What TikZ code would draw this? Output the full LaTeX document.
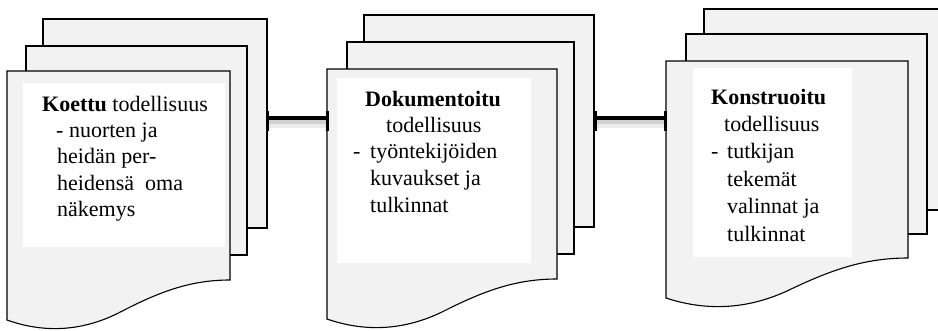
\documentclass[tikz,border=0pt]{standalone}
\usepackage{fontspec}
\setmainfont{Liberation Serif}
\definecolor{pagegray}{HTML}{F2F2F2}
\tikzset{
  page/.style={draw=black, line width=1.1pt, fill=pagegray, line join=miter},
  whitebox/.style={fill=white, draw=none},
  txt/.style={anchor=base west, inner sep=0pt, font=\fontsize{22}{26}\selectfont},
  link/.style={line width=4pt, black},
  linkshadowA/.style={line width=8pt, black!8},
  linkshadowB/.style={line width=4pt, black!18},
  tick/.style={line width=3pt, black},
}
\begin{document}
\begin{tikzpicture}[x=1pt,y=-1pt]
\clip (0,0) rectangle (938,330);
\fill[white] (0,0) rectangle (938,330);

% ---------- stack 1 ----------
\draw[page] (43,19) rectangle (267,228);
\draw[page] (26,46) rectangle (247,255);
\draw[page] (7,71) -- (230,71) -- (230,280)
  .. controls (190,280) and (158.6,292) .. (118.5,313)
  .. controls (78.4,333) and (40.5,332) .. (7,320) -- cycle;
\fill[whitebox] (23,83) rectangle (225,247);
\node[txt] (k1) at (42,111) {\textbf{Koettu} todellisuus};
\node[txt] (k2) at (56,137.4) {- nuorten ja};
\node[txt] (k3) at (57,163.8) {heidän per-};
\node[txt] (k4) at (57,190.2) {heidensä\ \ oma};
\node[txt] (k5) at (57,216.6) {näkemys};

% ---------- stack 2 ----------
\draw[page] (364,15) rectangle (594,227);
\draw[page] (347,42) rectangle (574,254);
\draw[page] (327,69) -- (557,69) -- (557,279)
  .. controls (515.6,279) and (483.4,291) .. (442,312)
  .. controls (400.6,332) and (361.5,331) .. (327,319) -- cycle;
\fill[whitebox] (337,78) rectangle (531,263);
\node[txt] (d1) at (365,106) {\textbf{Dokumentoitu}};
\node[txt] (d2) at (386,132) {todellisuus};
\node[txt] (d3) at (353,158.5) {-};
\node[txt] (d4) at (370,158.5) {työntekijöiden};
\node[txt] (d5) at (370,185) {kuvaukset ja};
\node[txt] (d6) at (370,212) {tulkinnat};

% ---------- stack 3 ----------
\draw[page] (704,9) rectangle (960,210);
\draw[page] (686,34) rectangle (927,234);
\draw[page] (666,61) -- (908,61) -- (908,258)
  .. controls (864.4,258) and (830.6,270) .. (787,291)
  .. controls (743.4,311) and (702.3,310) .. (666,298) -- cycle;
\fill[whitebox] (693,68) rectangle (852,257);
\node[txt] (c1) at (711,104) {\textbf{Konstruoitu}};
\node[txt] (c2) at (724,131) {todellisuus};
\node[txt] (c3) at (711,158) {-};
\node[txt] (c4) at (727,158) {tutkijan};
\node[txt] (c5) at (727,186) {tekemät};
\node[txt] (c6) at (727,213.5) {valinnat ja};
\node[txt] (c7) at (727,241) {tulkinnat};

% ---------- connectors ----------
\coordinate (a1) at (267,118);
\coordinate (b1) at (327,118);
\coordinate (a2) at (595,118);
\coordinate (b2) at (665,118);
\draw[linkshadowA, transform canvas={yshift=-6pt}] (a1) -- (b1);
\draw[linkshadowA, transform canvas={yshift=-6pt}] (a2) -- (b2);
\draw[linkshadowB, transform canvas={yshift=-4pt}] (a1) -- (b1);
\draw[linkshadowB, transform canvas={yshift=-4pt}] (a2) -- (b2);
\draw[link] (a1) -- (b1);
\draw[link] (a2) -- (b2);
\draw[tick] (a1) ++(0,-7) -- ++(0,20);
\draw[tick] (b1) ++(0,-7) -- ++(0,20);
\draw[tick] (a2) ++(0,-7) -- ++(0,20);
\draw[tick] (b2) ++(0,-7) -- ++(0,20);
\end{tikzpicture}
\end{document}
